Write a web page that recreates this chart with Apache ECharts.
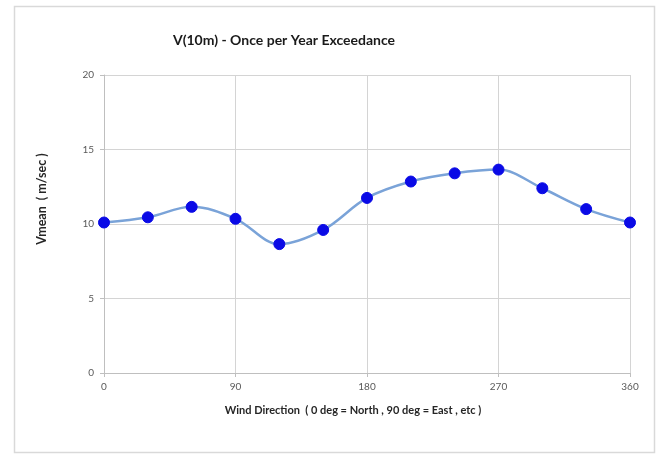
<!DOCTYPE html>
<html>
<head>
<meta charset="utf-8">
<script src="https://cdn.jsdelivr.net/npm/echarts@6/dist/echarts.min.js"></script>
<style>
  html, body { margin: 0; padding: 0; background: #ffffff; }
  #chart { width: 663px; height: 455px; }
</style>
</head>
<body>
<div id="chart"></div>
<script>
// Wind direction (deg) and mean wind speed at 10 m (m/s)
const directions = [0, 30, 60, 90, 120, 150, 180, 210, 240, 270, 300, 330, 360];
const vmean = [10.1, 10.45, 11.15, 10.35, 8.65, 9.6, 11.75, 12.85, 13.4, 13.65, 12.4, 11.0, 10.1];

const titleText = 'V(10m) - Once per Year Exceedance';
const xTitle = 'Wind Direction  ( 0 deg = North , 90 deg = East , etc )';
const yTitle = 'Vmean  ( m/sec )';

const chart = echarts.init(document.getElementById('chart'));
const gridColor = '#d4d4d4';
const labelColor = '#595959';
const axisTitleStyle = { fontFamily: 'Lato', fontSize: 11, fontWeight: 'bold', fill: '#262626' };

chart.setOption({
  backgroundColor: '#ffffff',
  animation: false,
  graphic: [{
    type: 'rect',
    shape: { x: 14.5, y: 6.5, width: 640, height: 446 },
    style: { fill: 'none', stroke: '#d9d9d9', lineWidth: 1.5 },
    silent: true
  }, {
    type: 'text',
    x: 353, y: 410,
    style: Object.assign({ text: xTitle, align: 'center', verticalAlign: 'middle' }, axisTitleStyle),
    silent: true
  }, {
    type: 'text',
    x: 42, y: 199,
    rotation: Math.PI / 2,
    style: Object.assign({ text: yTitle, align: 'center', verticalAlign: 'middle' }, axisTitleStyle, { fontSize: 12.5 }),
    silent: true
  }],
  title: {
    text: titleText,
    left: 279,
    textAlign: 'center',
    top: 28,
    textStyle: { fontFamily: 'Lato', fontSize: 14, fontWeight: 'bold', color: '#1a1a1a' }
  },
  grid: { left: 104, right: 33, top: 75, bottom: 82 },
  xAxis: {
    type: 'value',
    min: 0, max: 360, interval: 90,
    axisLine: { show: true, lineStyle: { color: '#bfbfbf', width: 1 } },
    axisTick: { show: true, length: 4, lineStyle: { color: '#bfbfbf' } },
    axisLabel: { fontFamily: 'Lato', fontSize: 10, color: labelColor, margin: 9 },
    splitLine: { show: true, lineStyle: { color: gridColor, width: 1 } }
  },
  yAxis: {
    type: 'value',
    min: 0, max: 20, interval: 5,
    axisLine: { show: true, lineStyle: { color: '#bfbfbf', width: 1 } },
    axisTick: { show: true, length: 4, lineStyle: { color: '#bfbfbf' } },
    axisLabel: { fontFamily: 'Lato', fontSize: 10, color: labelColor, margin: 10 },
    splitLine: { show: true, lineStyle: { color: gridColor, width: 1 } }
  },
  series: [{
    type: 'line',
    data: directions.map((d, i) => [d, vmean[i]]),
    smooth: 0.35,
    symbol: 'circle',
    symbolSize: 11,
    lineStyle: { color: '#7aa3d8', width: 2.5 },
    itemStyle: { color: '#0a0ae6', borderColor: '#0a0ae6' }
  }]
});
</script>
</body>
</html>
